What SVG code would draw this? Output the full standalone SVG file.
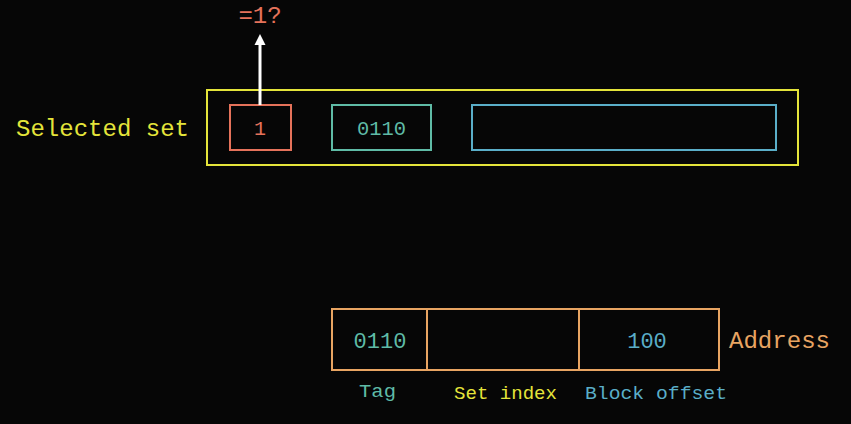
<svg xmlns="http://www.w3.org/2000/svg" width="851" height="424" viewBox="0 0 851 424">
  <defs>
    <style>
      text { font-family: "Liberation Mono", "DejaVu Sans Mono", monospace; }
      .box { fill: none; stroke-width: 2; }
      .lbl { font-size: 24px; }
      .val { font-size: 20px; text-anchor: middle; }
      .sub { font-size: 19px; }
      .yellow { fill: #e4e43a; }
      .red { fill: #e5725a; }
      .teal { fill: #5fbba6; }
      .blue { fill: #5aaec8; }
      .orange { fill: #e8a462; }
    </style>
  </defs>
  <rect width="851" height="424" fill="#060606"/>

  <!-- selected cache set -->
  <g id="selected-set">
    <rect class="box" x="207" y="90" width="591" height="75" stroke="#e4e43a"/>
    <text class="lbl yellow" x="16" y="136" textLength="173" lengthAdjust="spacingAndGlyphs">Selected set</text>
  </g>
  <g id="valid-bit">
    <rect class="box" x="230" y="105" width="61" height="45" stroke="#e5725a"/>
    <text class="val red" x="260" y="135">1</text>
  </g>
  <g id="line-tag">
    <rect class="box" x="332" y="105" width="99" height="45" stroke="#5fbba6"/>
    <text class="val teal" x="381.5" y="135" textLength="49" lengthAdjust="spacingAndGlyphs">0110</text>
  </g>
  <g id="line-block">
    <rect class="box" x="472" y="105" width="304" height="45" stroke="#5aaec8"/>
  </g>
  <g id="valid-check">
    <text class="lbl red" x="260" y="23" text-anchor="middle">=1?</text>
  </g>

  <!-- address fields -->
  <g id="address">
    <rect class="box" x="332" y="309" width="387" height="61" stroke="#e8a462"/>
    <line x1="427" y1="309" x2="427" y2="370" stroke="#e8a462" stroke-width="2"/>
    <line x1="579" y1="309" x2="579" y2="370" stroke="#e8a462" stroke-width="2"/>
    <text class="val teal" x="380" y="348" style="font-size:22px">0110</text>
    <text class="val blue" x="647" y="348" style="font-size:22px">100</text>
    <text class="lbl orange" x="729" y="348" textLength="101" lengthAdjust="spacingAndGlyphs">Address</text>
  </g>
  <g id="field-labels">
    <text class="sub teal" x="359" y="397" textLength="37" lengthAdjust="spacingAndGlyphs">Tag</text>
    <text class="sub yellow" x="454" y="399" textLength="103" lengthAdjust="spacingAndGlyphs">Set index</text>
    <text class="sub blue" x="585" y="399" textLength="142" lengthAdjust="spacingAndGlyphs">Block offset</text>
  </g>

  <!-- connectors: valid bit checked against 1 -->
  <g id="connectors">
    <line x1="260" y1="105" x2="260" y2="43" stroke="#ffffff" stroke-width="3"/>
    <polygon points="254.5,45 260,34 265.5,45" fill="#ffffff"/>
  </g>
</svg>
